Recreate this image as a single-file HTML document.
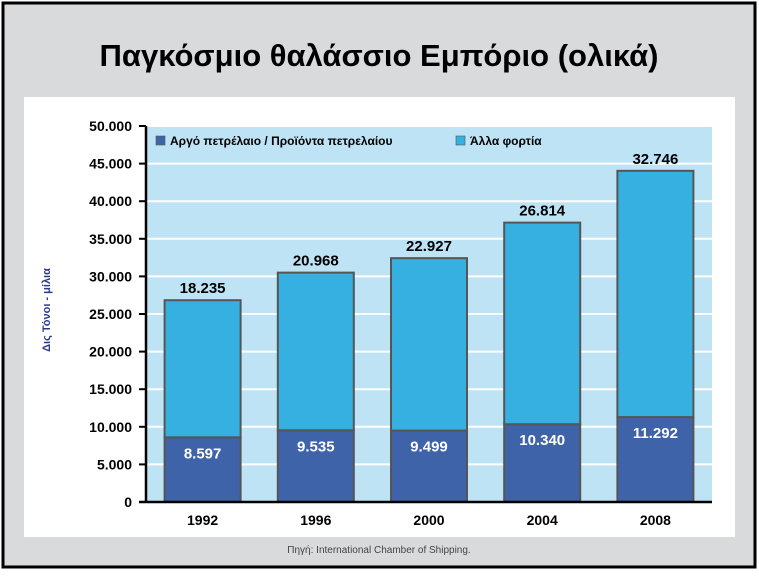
<!DOCTYPE html>
<html><head><meta charset="utf-8"><style>
body{margin:0;width:759px;height:571px;overflow:hidden;font-family:"Liberation Sans",sans-serif}
</style></head><body>
<svg width="759" height="571" xmlns="http://www.w3.org/2000/svg" font-family="Liberation Sans, sans-serif">
<rect x="3" y="3" width="752" height="564" fill="#d9dadc" stroke="#000" stroke-width="3"/>
<text x="379" y="66" text-anchor="middle" font-size="31" font-weight="bold">Παγκόσμιο θαλάσσιο Εμπόριο (ολικά)</text>
<rect x="24" y="97" width="711" height="440" fill="#fff"/>
<rect x="146" y="126" width="566" height="376" fill="#bde3f5"/>
<g id="grid"></g><g id="bars"></g><g id="axes"></g>
<rect x="156" y="136" width="9" height="9" fill="#3f63a9" stroke="#555" stroke-width="0.6"/>
<text x="170" y="145" font-size="12" font-weight="bold">Αργό πετρέλαιο / Προϊόντα πετρελαίου</text>
<rect x="456" y="136" width="9" height="9" fill="#35b0e0" stroke="#555" stroke-width="0.6"/>
<text x="470" y="145" font-size="12" font-weight="bold">Άλλα φορτία</text>
<text transform="translate(50,310) rotate(-90)" text-anchor="middle" font-size="11" font-weight="bold" fill="#2b3a8a">Δις Τόνοι - μίλια</text>
<text x="379" y="553" text-anchor="middle" font-size="10" fill="#444">Πηγή: International Chamber of Shipping.</text>
</svg>
<script>
const categories=["1992","1996","2000","2004","2008"];
const oil=[8597,9535,9499,10340,11292];
const other=[18235,20968,22927,26814,32746];
const yTicks=[0,5000,10000,15000,20000,25000,30000,35000,40000,45000,50000];
const NS="http://www.w3.org/2000/svg";
const x0=146,x1=712,y0=502,y1=126,yMax=50000;
const y=v=>y0-(v/yMax)*(y0-y1);
const band=(x1-x0)/categories.length,bw=76;
const xc=i=>x0+band*(i+0.5);
const fmt=v=>v===0?"0":v.toString().replace(/\B(?=(\d{3})+(?!\d))/g,".");
function mk(tag,attrs,parent,text){const e=document.createElementNS(NS,tag);for(const k in attrs)e.setAttribute(k,attrs[k]);if(text!=null)e.textContent=text;document.getElementById(parent).appendChild(e);return e;}
yTicks.forEach(t=>{
  if(t>0){const g=mk("line",{x1:x0,x2:x1,y1:y(t),y2:y(t),stroke:"#fff","stroke-width":2},"grid");
  
  }
  const tk=mk("line",{x1:x0-7,x2:x0,y1:y(t),y2:y(t),stroke:"#000","stroke-width":2},"axes");
  
  
  const tl=mk("text",{x:x0-14,y:y(t)+5,"text-anchor":"end","font-size":14,"font-weight":"bold"},"axes",fmt(t));
  
  
});
categories.forEach((c,i)=>{
  const bx=xc(i)-bw/2;
  const b1=mk("rect",{x:bx,y:y(oil[i]),width:bw,height:y0-y(oil[i]),fill:"#3f63a9",stroke:"#555","stroke-width":2},"bars");
  
  
  const tot=oil[i]+other[i];
  const b2=mk("rect",{x:bx,y:y(tot),width:bw,height:y(oil[i])-y(tot),fill:"#35b0e0",stroke:"#555","stroke-width":2},"bars");
  
  
  const l1=mk("text",{x:xc(i),y:y(oil[i])+21,"text-anchor":"middle","font-size":15,"font-weight":"bold",fill:"#fff"},"bars",fmt(oil[i]));
  
  
  const l2=mk("text",{x:xc(i),y:y(tot)-7,"text-anchor":"middle","font-size":15,"font-weight":"bold"},"bars",fmt(other[i]));
  
  
  const xl=mk("text",{x:xc(i),y:y0+23,"text-anchor":"middle","font-size":14,"font-weight":"bold"},"axes",c);
  
  
});
const ya=mk("line",{x1:x0,x2:x0,y1:y1,y2:y0+1,stroke:"#000","stroke-width":2.5},"axes");


const xa=mk("line",{x1:x0-7,x2:x1,y1:y0,y2:y0,stroke:"#000","stroke-width":2.5},"axes");


</script>
</body></html>
